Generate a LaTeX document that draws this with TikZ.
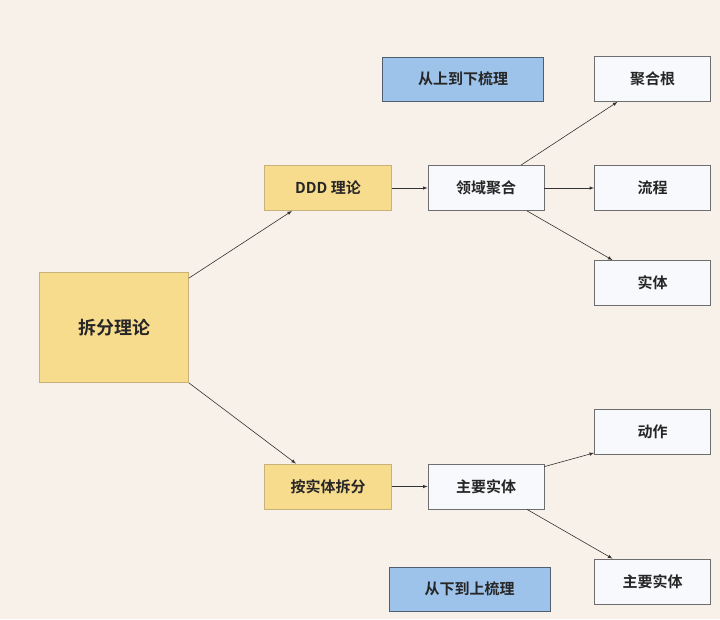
\documentclass[tikz,border=0pt]{standalone}
\usepackage{fontspec}
\setmainfont{Noto Sans CJK SC}[BoldFont={Noto Sans CJK SC Bold}]
\definecolor{bgcream}{HTML}{F8F1EA}
\definecolor{yfill}{HTML}{F8DC8E}
\definecolor{yline}{HTML}{C9B27A}
\definecolor{bfill}{HTML}{9EC3EA}
\definecolor{bline}{HTML}{4F5F70}
\definecolor{wfill}{HTML}{F8F9FC}
\definecolor{wline}{HTML}{6E6E6E}
\tikzset{
  box/.style={draw, line width=0.8pt, inner sep=0pt, font=\bfseries\fontsize{15}{17}\selectfont, text=black!85},
  ybox/.style={box, fill=yfill, draw=yline, minimum width=127pt, minimum height=45pt},
  wbox/.style={box, fill=wfill, draw=wline, minimum width=116pt, minimum height=45pt},
  bbox/.style={box, fill=bfill, draw=bline, minimum width=161pt, minimum height=44pt},
  link/.style={->, >=latex, line width=0.6pt, black!80}
}
\begin{document}
\begin{tikzpicture}[x=1pt,y=-1pt]
\fill[bgcream] (0,0) rectangle (720,619);
\useasboundingbox (0,0) rectangle (720,619);
\node[ybox, minimum width=149pt, minimum height=110pt, font=\bfseries\fontsize{18}{21}\selectfont] (split) at (114,327.5) {拆分理论};
\node[ybox] (ddd) at (328,188) {DDD 理论};
\node[ybox] (entsplit) at (328,486.5) {按实体拆分};
\node[wbox] (domain) at (486,188) {领域聚合};
\node[wbox] (mainent) at (486,486.5) {主要实体};
\node[wbox] (root) at (652.5,79) {聚合根};
\node[wbox] (flow) at (652.5,188) {流程};
\node[wbox] (entity) at (652.5,283) {实体};
\node[wbox] (action) at (652.5,432) {动作};
\node[wbox] (mainent2) at (652.5,581.5) {主要实体};
\node[bbox] (topdown) at (463,79) {从上到下梳理};
\node[bbox] (bottomup) at (469.5,589) {从下到上梳理};
% connectors
\draw[link] (split.north east) ++(0,6) -- ([xshift=-36pt]ddd.south);
\draw[link] (split.south east) -- ([xshift=-32pt]entsplit.north);
\draw[link] (ddd) -- (domain);
\draw[link] (entsplit) -- (mainent);
\draw[link] ([xshift=35pt]domain.north) -- ([xshift=-35pt]root.south);
\draw[link] (domain) -- (flow);
\draw[link] ([xshift=41pt]domain.south) -- ([xshift=-40pt]entity.north);
\draw[link] ([yshift=-3pt]mainent.north east) -- ([yshift=2pt]action.south west);
\draw[link] ([xshift=41pt]mainent.south) -- ([xshift=-40pt]mainent2.north);
\end{tikzpicture}
\end{document}
